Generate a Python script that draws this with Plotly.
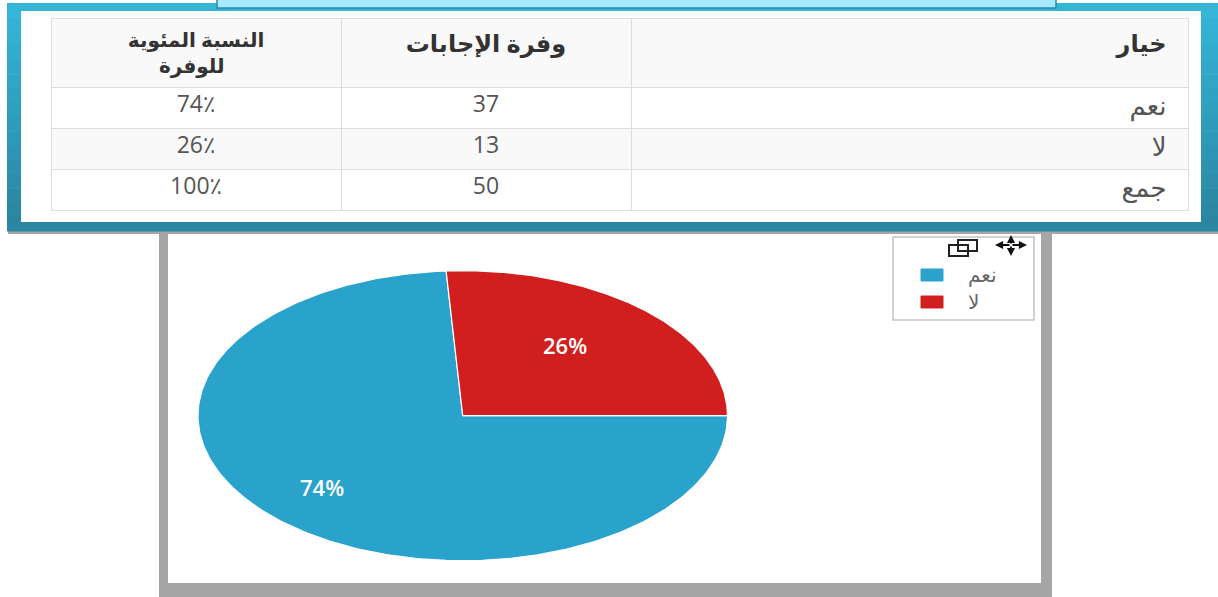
import numpy as np
import plotly.graph_objects as go

W, H = 1218, 597

# ---------------- data ----------------
options = ["نعم", "لا", "جمع"]
answer_labels = ["نعم", "لا"]
answer_counts = [37, 13]
slice_colors = ["#2aa3cc", "#d11f1f"]
header_labels = ["خيار", "وفرة الإجابات", "النسبة المئوية", "للوفرة"]

total = sum(answer_counts)
counts_col = answer_counts + [total]
pct_col = [f"{round(100 * c / total)}٪" for c in counts_col]


def X(p):
    return p / W


def Y(p):
    return 1 - p / H


NB = "\u00a0"

fig = go.Figure()

# ---------------- pie (elliptical, drawn on stretched axes) ----------------
cx, cy, rx, ry = 462.75, 415.7, 264.75, 145.0
pad = 1.03
cum = 0
for lab, v, col in zip(answer_labels, answer_counts, slice_colors):
    a0 = -360.0 * cum / total
    a1 = -360.0 * (cum + v) / total
    t = np.radians(np.linspace(a0, a1, 240))
    xs = np.concatenate([[0], np.cos(t), [0]])
    ys = np.concatenate([[0], np.sin(t), [0]])
    fig.add_trace(go.Scatter(
        x=xs, y=ys, fill="toself", fillcolor=col, mode="lines",
        line=dict(color="white", width=1.2), name=lab,
        hoverinfo="name", showlegend=False,
    ))
    mid = np.radians((a0 + a1) / 2)
    fig.add_annotation(
        x=0.67 * np.cos(mid), y=0.67 * np.sin(mid), xref="x", yref="y",
        xshift=-19,
        text=f"{round(100 * v / total)}%", showarrow=False,
        font=dict(color="white", size=22, family="Open Sans", weight=600),
    )
    cum += v

fig.update_xaxes(domain=[X(cx - pad * rx), X(cx + pad * rx)], range=[-pad, pad],
                 visible=False, fixedrange=True)
fig.update_yaxes(domain=[Y(cy + pad * ry), Y(cy - pad * ry)], range=[-pad, pad],
                 visible=False, fixedrange=True)

# ---------------- table ----------------
pct_header = f"<b>{header_labels[2]}<br>{NB * 6}{header_labels[3]}{NB * 6}</b>"
hdr = [pct_header, f"<b>{header_labels[1]}</b>", f"<b>{header_labels[0]}</b>{NB * 2}"]
row_fills = ["white", "#f9f9f9", "white"]
fig.add_trace(go.Table(
    domain=dict(x=[X(51), X(1188)], y=[Y(212), Y(18)]),
    columnwidth=[290, 290, 557],
    header=dict(
        values=hdr,
        fill_color="#f9f9f9", line=dict(color="#dddddd", width=1),
        align=["center", "center", "right"], height=69,
        font=dict(family="Open Sans, DejaVu Sans", size=[20, 24, 24], color="#333333"),
    ),
    cells=dict(
        values=[pct_col, counts_col, [o + NB * 2 for o in options]],
        fill_color=[row_fills] * 3, line=dict(color="#dddddd", width=1),
        align=["center", "center", "right"], height=41,
        font=dict(family="Open Sans, DejaVu Sans", size=[23, 23, 26], color="#555555"),
    ),
))

# ---------------- decorative frames ----------------
shapes = []
# gray frame around chart
shapes.append(dict(type="rect", xref="paper", yref="paper", layer="below",
                   x0=X(159), x1=X(1052), y0=Y(600), y1=Y(232),
                   fillcolor="#a6a6a6", line=dict(width=0)))
shapes.append(dict(type="rect", xref="paper", yref="paper", layer="below",
                   x0=X(168), x1=X(1041), y0=Y(583), y1=Y(232),
                   fillcolor="white", line=dict(width=0)))
# gray shadow under blue frame
shapes.append(dict(type="rect", xref="paper", yref="paper", layer="below",
                   x0=X(8), x1=X(1220), y0=Y(234), y1=Y(230),
                   fillcolor="#a6a6a6", line=dict(width=0)))
# blue gradient frame (bands)
top_rgb = np.array([52, 182, 217])
bot_rgb = np.array([42, 133, 160])
nb = 16
y_top, y_bot = 3, 231
for i in range(nb):
    f = i / (nb - 1)
    c = (top_rgb * (1 - f) + bot_rgb * f).astype(int)
    ya = y_top + (y_bot - y_top) * i / nb
    yb = y_top + (y_bot - y_top) * (i + 1) / nb
    shapes.append(dict(type="rect", xref="paper", yref="paper", layer="below",
                       x0=X(7), x1=X(1220), y0=Y(yb + 0.5), y1=Y(ya),
                       fillcolor=f"rgb({c[0]},{c[1]},{c[2]})", line=dict(width=0)))
shapes.append(dict(type="rect", xref="paper", yref="paper", layer="below",
                   x0=X(21), x1=X(1201), y0=Y(222), y1=Y(11),
                   fillcolor="white", line=dict(width=0)))
# light cyan strip at top
shapes.append(dict(type="rect", xref="paper", yref="paper", layer="below",
                   x0=X(217), x1=X(1056), y0=Y(8), y1=Y(-2),
                   fillcolor="#a6e9fc", line=dict(color="#2b8aa8", width=1.5)))

# legend box
shapes.append(dict(type="rect", xref="paper", yref="paper",
                   x0=X(893), x1=X(1034), y0=Y(320), y1=Y(237),
                   fillcolor="white", line=dict(color="#c4c4c4", width=1.5)))
# toolbar icon (overlapping squares)
shapes.append(dict(type="rect", xref="paper", yref="paper",
                   x0=X(958), x1=X(977), y0=Y(251), y1=Y(240),
                   fillcolor="rgba(0,0,0,0)", line=dict(color="#222222", width=2)))
shapes.append(dict(type="rect", xref="paper", yref="paper",
                   x0=X(949), x1=X(968), y0=Y(256), y1=Y(245),
                   fillcolor="rgba(0,0,0,0)", line=dict(color="#222222", width=2)))

# legend entries
for i, (lab, col) in enumerate(zip(answer_labels, slice_colors)):
    yc = 275 + 27 * i
    shapes.append(dict(type="rect", xref="paper", yref="paper",
                       x0=X(921), x1=X(943), y0=Y(yc + 6), y1=Y(yc - 6),
                       fillcolor=col, line=dict(color=col, width=1)))
    fig.add_annotation(x=X(966), y=Y(yc), xref="paper", yref="paper",
                       text=lab, showarrow=False, xanchor="left", yanchor="middle",
                       font=dict(family="DejaVu Sans", size=20, color="#666666"))

# move icon (four arrows)
mcx, mcy = 1011, 245
for hx, hy in [(1027, 245), (995, 245), (1011, 235), (1011, 256)]:
    fig.add_annotation(x=X(hx), y=Y(hy), xref="paper", yref="paper",
                       ax=mcx - hx, ay=mcy - hy, text="", showarrow=True,
                       arrowhead=2, arrowsize=0.9, arrowwidth=1.8,
                       arrowcolor="#111111", standoff=0)

fig.update_layout(
    width=W, height=H,
    margin=dict(l=0, r=0, t=0, b=0),
    paper_bgcolor="white", plot_bgcolor="rgba(0,0,0,0)",
    shapes=shapes, showlegend=False,
)

fig.write_html("out.html", config={"displayModeBar": False},
               post_script="document.body.style.margin='0px';")
